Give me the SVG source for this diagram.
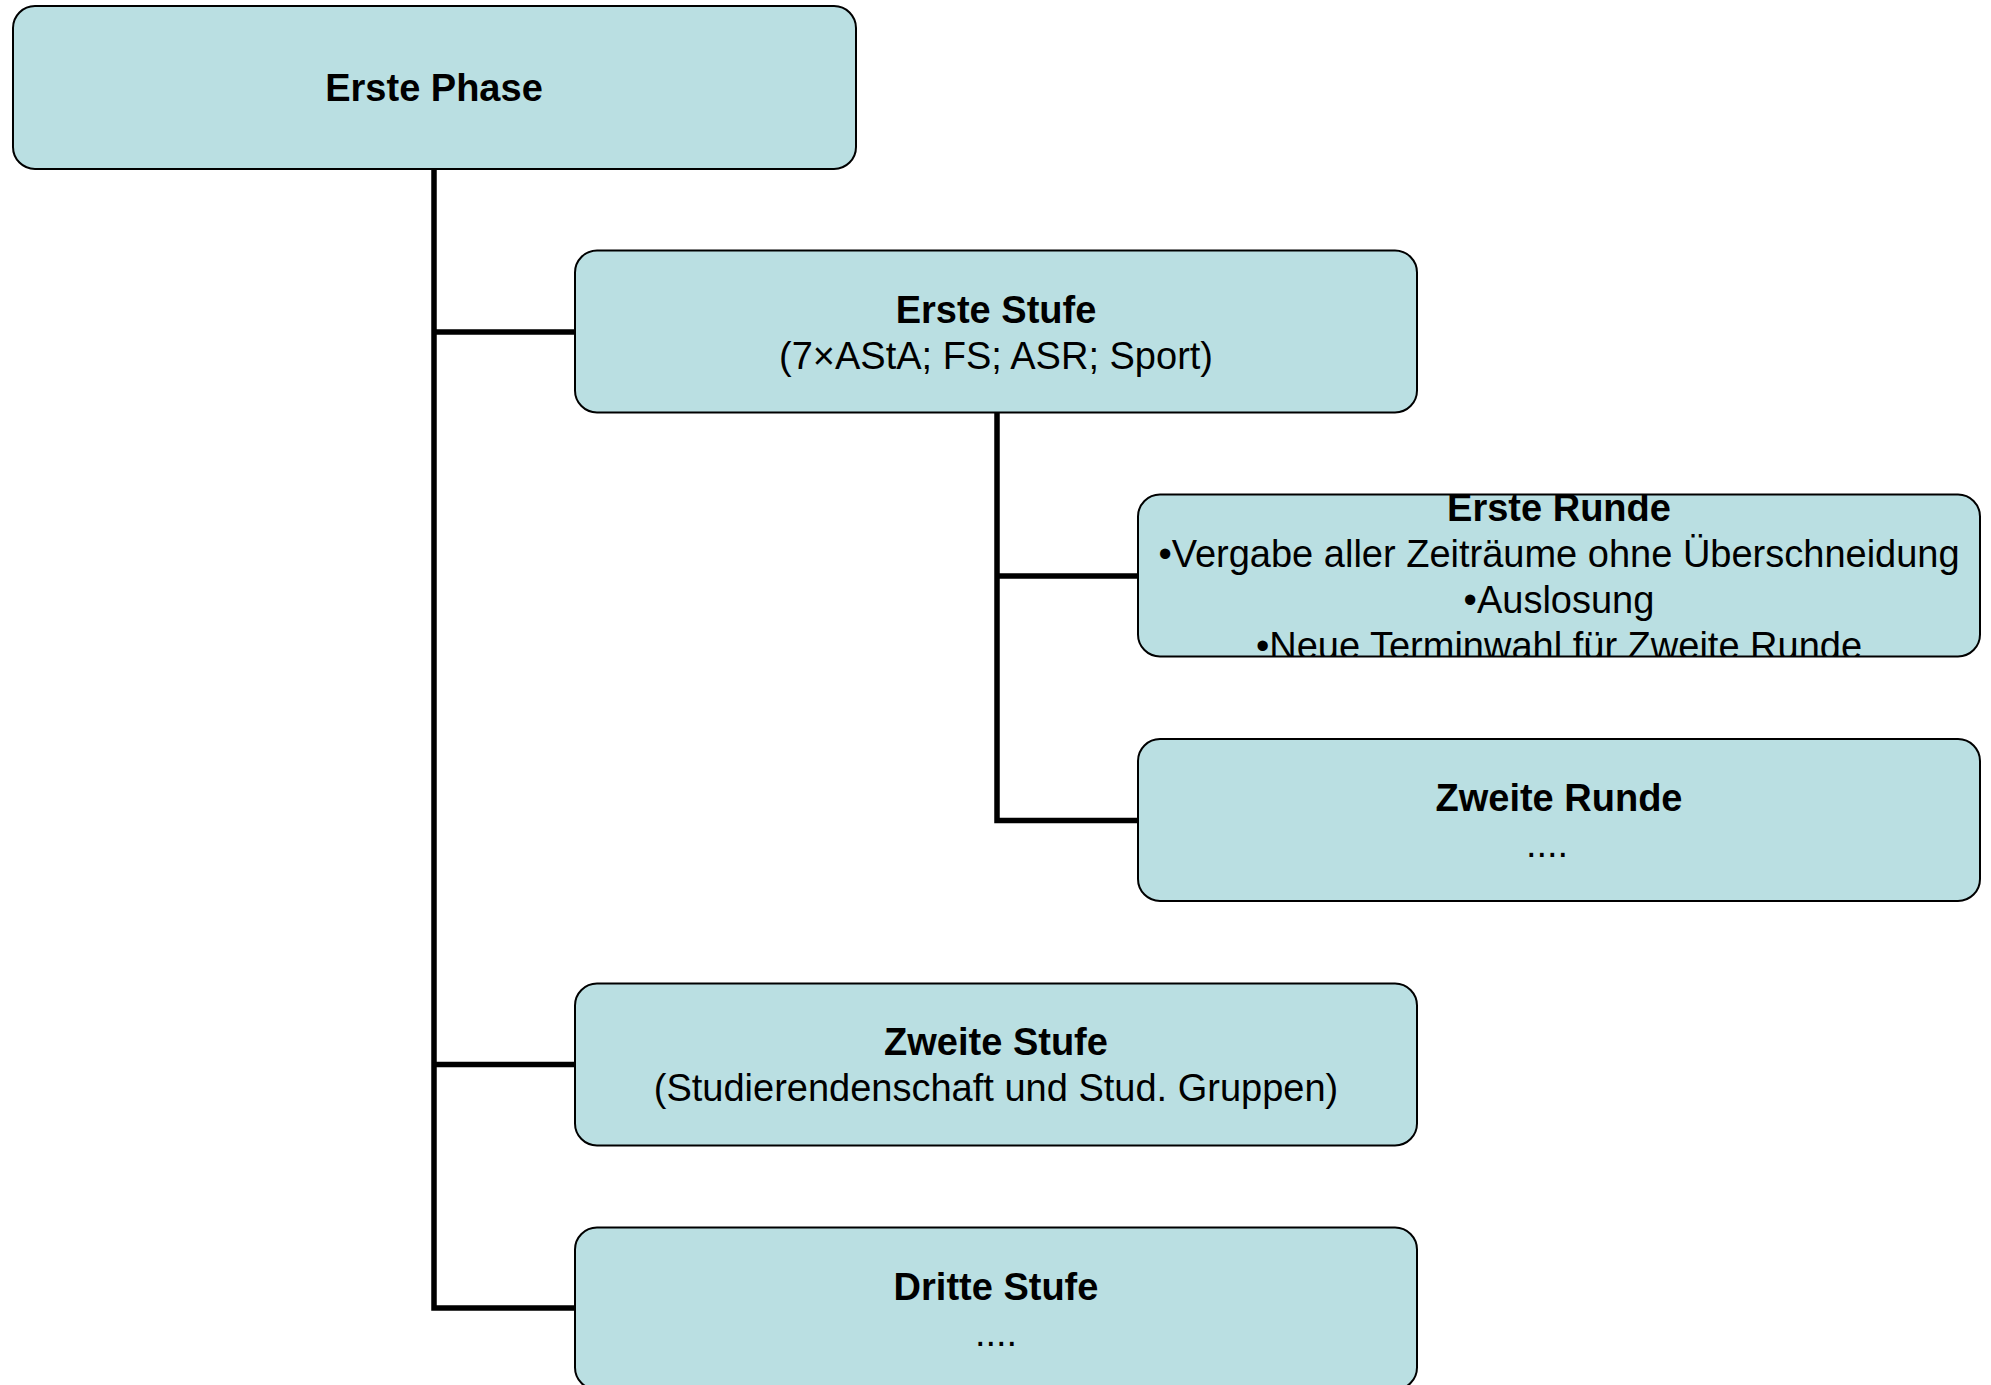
<svg xmlns="http://www.w3.org/2000/svg" width="1991" height="1385" viewBox="0 0 1991 1385">
<style>
.box{fill:#BADFE2;stroke:#000;stroke-width:2}
.fill{fill:#BADFE2;stroke:none}
.edge{fill:none;stroke:#000;stroke-width:5.5;stroke-linejoin:miter}
text{font-family:"Liberation Sans",Arial,Helvetica,sans-serif;font-size:38px;fill:#000;text-anchor:middle}
.b{font-weight:bold}
</style>
<defs>
<clipPath id="clipR1"><rect x="1138" y="494.5" width="842" height="162" rx="22"/></clipPath>
</defs>
<g id="connectors">
<path class="edge" d="M434 169 V1308 H575 M434 332 H575 M434 1064.5 H575"/>
<path class="edge" d="M997 413 V820.5 H1138 M997 576 H1138"/>
</g>
<g id="erste-phase">
<rect class="box" x="13" y="6" width="843" height="163" rx="22"/>
<text class="b" x="434" y="101">Erste Phase</text>
</g>
<g id="erste-stufe">
<rect class="box" x="575" y="250.5" width="842" height="162" rx="22"/>
<text class="b" x="996" y="323">Erste Stufe</text>
<text x="996" y="369">(7×AStA; FS; ASR; Sport)</text>
</g>
<g id="erste-runde">
<rect class="fill" x="1138" y="494.5" width="842" height="162" rx="22"/>
<g clip-path="url(#clipR1)">
<text class="b" x="1559" y="521">Erste Runde</text>
<text x="1559" y="567">•Vergabe aller Zeiträume ohne Überschneidung</text>
<text x="1559" y="613">•Auslosung</text>
<text x="1559" y="659">•Neue Terminwahl für Zweite Runde</text>
</g>
<rect x="1138" y="494.5" width="842" height="162" rx="22" fill="none" stroke="#000" stroke-width="2"/>
</g>
<g id="zweite-runde">
<rect class="box" x="1138" y="739" width="842" height="162" rx="22"/>
<text class="b" x="1559" y="811">Zweite Runde</text>
<text x="1547" y="857">....</text>
</g>
<g id="zweite-stufe">
<rect class="box" x="575" y="983.5" width="842" height="162" rx="22"/>
<text class="b" x="996" y="1055">Zweite Stufe</text>
<text x="996" y="1101">(Studierendenschaft und Stud. Gruppen)</text>
</g>
<g id="dritte-stufe">
<rect class="box" x="575" y="1227.5" width="842" height="162" rx="22"/>
<text class="b" x="996" y="1300">Dritte Stufe</text>
<text x="996" y="1346">....</text>
</g>
</svg>
